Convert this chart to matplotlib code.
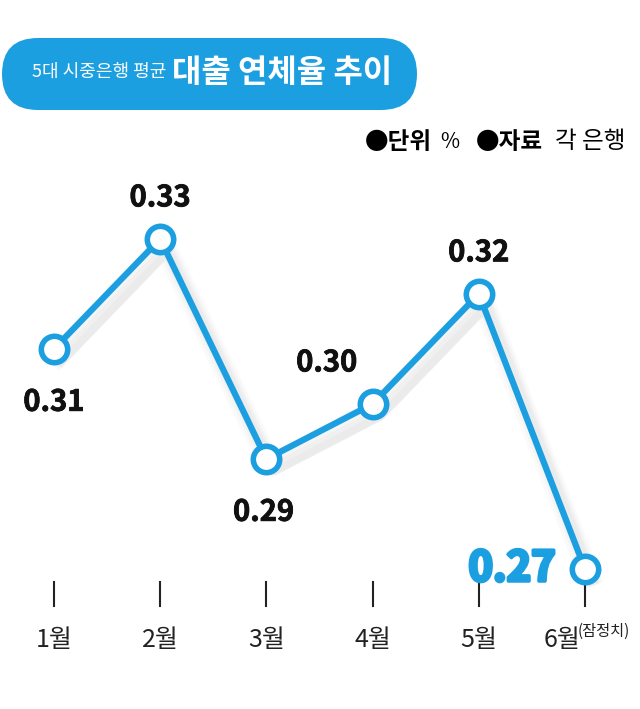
import matplotlib
matplotlib.use("Agg")
import matplotlib.pyplot as plt
from matplotlib.patches import FancyBboxPatch
from matplotlib.transforms import IdentityTransform, blended_transform_factory
import matplotlib.patheffects as pe

plt.rcParams['font.family'] = ['Noto Sans CJK KR', 'DejaVu Sans']

months = ["1월", "2월", "3월", "4월", "5월", "6월"]
rates = [0.31, 0.33, 0.29, 0.30, 0.32, 0.27]
value_labels = ["0.31", "0.33", "0.29", "0.30", "0.32", "0.27"]

BLUE = "#1c9fe0"
W, H = 640, 709

fig = plt.figure(figsize=(W / 100, H / 100), dpi=100)
ax = fig.add_axes([0, 0, 1, 1])
ax.set_xlim(-0.508, 5.518)
ax.set_ylim(0.24455, 0.37345)
ax.axis("off")

x = list(range(len(months)))

# faint blurred shadow below-right of the line
shadow = [pe.SimpleLineShadow(offset=(o, -o * 1.5), shadow_color="black",
                              alpha=0.018, linewidth=w)
          for o, w in [(3, 16), (4, 12), (5, 9), (6, 6)]]
ax.plot(x, rates, color=BLUE, lw=4.5, zorder=3, solid_joinstyle="round",
        path_effects=shadow + [pe.Normal()])
ax.plot(x, rates, "o", ms=19, mfc="white", mec=BLUE, mew=4, zorder=4)

# value labels: (dx, dy) offsets in points
offs = [(0, -38), (0, 30), (-2, -38), (-33, 30), (0, 30), (-21, 0)]
for i, (v, lab) in enumerate(zip(rates, value_labels)):
    dx, dy = offs[i]
    last = i == len(rates) - 1
    ax.annotate(lab, (i, v), xytext=(dx, dy), textcoords="offset points",
                ha="right" if last else "center", va="center",
                fontsize=30 if last else 21,
                fontweight="heavy" if last else "bold",
                color=BLUE if last else "#111111", zorder=5,
                path_effects=[pe.withStroke(linewidth=2.5, foreground=BLUE)] if last
                else [pe.withStroke(linewidth=0.6, foreground="#111111")])

# small tick marks and month labels
tr = blended_transform_factory(ax.transData, fig.transFigure)
for i, m in enumerate(months):
    ax.plot([i, i], [1 - 582 / H, 1 - 606 / H], color="#222222", lw=1.5, transform=tr)
    xi = i - 0.22 if i == len(months) - 1 else i
    ax.text(xi, 1 - 640 / H, m, transform=tr, ha="center", va="center",
            fontsize=18, color="#222222")
ax.text(4.93, 1 - 631 / H, "(잠정치)", transform=tr, ha="left", va="center",
        fontsize=11, color="#222222")

# title pill
pill = FancyBboxPatch((2, H - 110), 415, 72,
                      boxstyle="round,pad=0,rounding_size=36",
                      transform=IdentityTransform(), fc=BLUE, ec="none")
fig.patches.append(pill)
fig.text(32 / W, 1 - 72 / H, "5대 시중은행 평균", ha="left", va="center",
         fontsize=13, color="white")
fig.text(172 / W, 1 - 73 / H, "대출 연체율 추이", ha="left", va="center",
         fontsize=23, fontweight="bold", color="white")

# unit / source note
fig.text(365 / W, 1 - 142 / H, "●단위", ha="left", va="center", fontsize=17, fontweight="bold")
fig.text(440 / W, 1 - 142 / H, "%", ha="left", va="center", fontsize=15)
fig.text(476 / W, 1 - 142 / H, "●자료", ha="left", va="center", fontsize=17, fontweight="bold")
fig.text(555 / W, 1 - 142 / H, "각 은행", ha="left", va="center", fontsize=17)

fig.savefig("out.png", dpi=100)
